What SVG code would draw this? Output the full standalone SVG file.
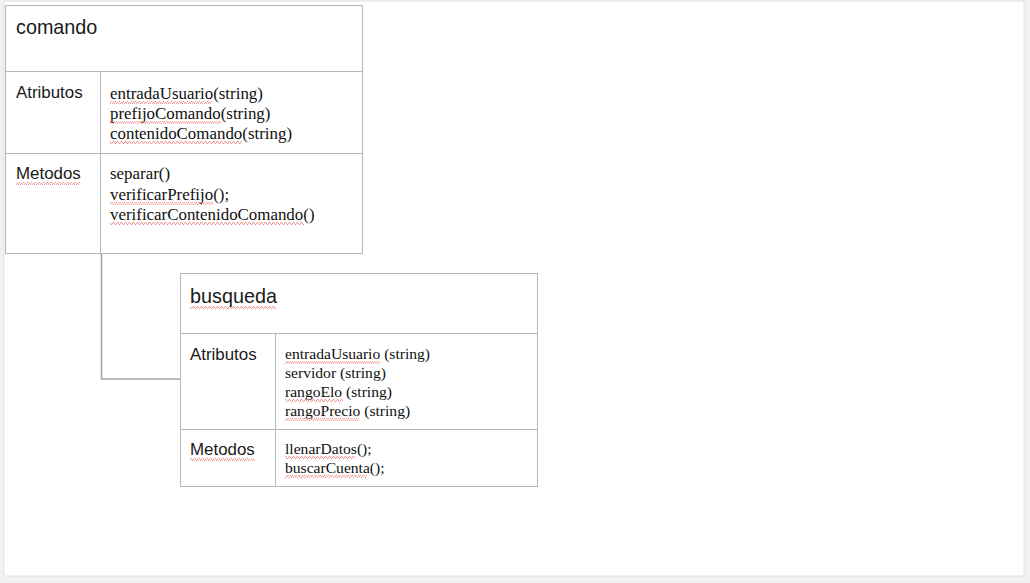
<svg xmlns="http://www.w3.org/2000/svg" width="1030" height="583" viewBox="0 0 1030 583">
<defs>
<style>
.tb{fill:#ffffff;stroke:#b7b7b7;stroke-width:1}
.ln{stroke:#b7b7b7;stroke-width:1;fill:none}
.h{font-family:"Liberation Sans",Arial,sans-serif;font-size:19.8px;fill:#1a1a1a}
.s{font-family:"Liberation Sans",Arial,sans-serif;font-size:16.9px;fill:#1a1a1a}
.t{font-family:"Liberation Serif","Times New Roman",serif;font-size:16.9px;fill:#111}
.t2{font-family:"Liberation Serif","Times New Roman",serif;font-size:15.6px;fill:#111}
.sq{fill:url(#wave)}
</style>
<pattern id="wave" width="4" height="3" patternUnits="userSpaceOnUse">
<path d="M0 2.5 L1 0.5 L2 0.5 L3 2.5 L4 2.5" fill="none" stroke="#e8716f" stroke-width="0.7"/>
</pattern>
</defs>
<rect x="0" y="0" width="1030" height="583" fill="#f1f1f1"/>
<rect x="4" y="1" width="1020" height="575" fill="#ffffff" stroke="#e2e2e2" stroke-width="1"/>

<g id="connectors">
<path d="M101.5 254 V379 H180" fill="none" stroke="#a5a5a5" stroke-width="1.6"/>
</g>

<g id="comando">
<rect class="tb" x="5.5" y="5.5" width="357" height="248"/>
<line class="ln" x1="5.5" y1="71.5" x2="362.5" y2="71.5"/>
<line class="ln" x1="5.5" y1="153.5" x2="362.5" y2="153.5"/>
<line class="ln" x1="100.5" y1="71.5" x2="100.5" y2="253.5"/>
<text class="h" x="16" y="34">comando</text>
<text class="s" x="16" y="98">Atributos</text>
<text class="t" x="110" y="99">entradaUsuario(string)</text>
<text class="t" x="110" y="119">prefijoComando(string)</text>
<text class="t" x="110" y="139">contenidoComando(string)</text>
<text class="s" x="16" y="179">Metodos</text>
<text class="t" x="110" y="179">separar()</text>
<text class="t" x="110" y="200">verificarPrefijo();</text>
<text class="t" x="110" y="220">verificarContenidoComando()</text>
<rect class="sq" x="110" y="101" width="102" height="3"/>
<rect class="sq" x="110" y="121" width="111" height="3"/>
<rect class="sq" x="110" y="141" width="132" height="3"/>
<rect class="sq" x="16" y="182" width="64" height="3"/>
<rect class="sq" x="110" y="202" width="103" height="3"/>
<rect class="sq" x="110" y="222" width="194" height="3"/>
</g>

<g id="busqueda">
<rect class="tb" x="180.5" y="273.5" width="357" height="213"/>
<line class="ln" x1="180.5" y1="333.5" x2="537.5" y2="333.5"/>
<line class="ln" x1="180.5" y1="429.5" x2="537.5" y2="429.5"/>
<line class="ln" x1="275.5" y1="333.5" x2="275.5" y2="486.5"/>
<text class="h" x="190" y="303">busqueda</text>
<text class="s" x="190" y="360">Atributos</text>
<text class="t2" x="285" y="359">entradaUsuario (string)</text>
<text class="t2" x="285" y="378">servidor (string)</text>
<text class="t2" x="285" y="397">rangoElo (string)</text>
<text class="t2" x="285" y="416">rangoPrecio (string)</text>
<text class="s" x="190" y="455">Metodos</text>
<text class="t2" x="285" y="454">llenarDatos();</text>
<text class="t2" x="285" y="473">buscarCuenta();</text>
<rect class="sq" x="190" y="306" width="86" height="3"/>
<rect class="sq" x="285" y="361" width="95" height="3"/>
<rect class="sq" x="285" y="399" width="58" height="3"/>
<rect class="sq" x="285" y="418" width="74" height="3"/>
<rect class="sq" x="190" y="458" width="65" height="3"/>
<rect class="sq" x="285" y="456" width="70" height="3"/>
<rect class="sq" x="285" y="475" width="82" height="3"/>
</g>
</svg>
